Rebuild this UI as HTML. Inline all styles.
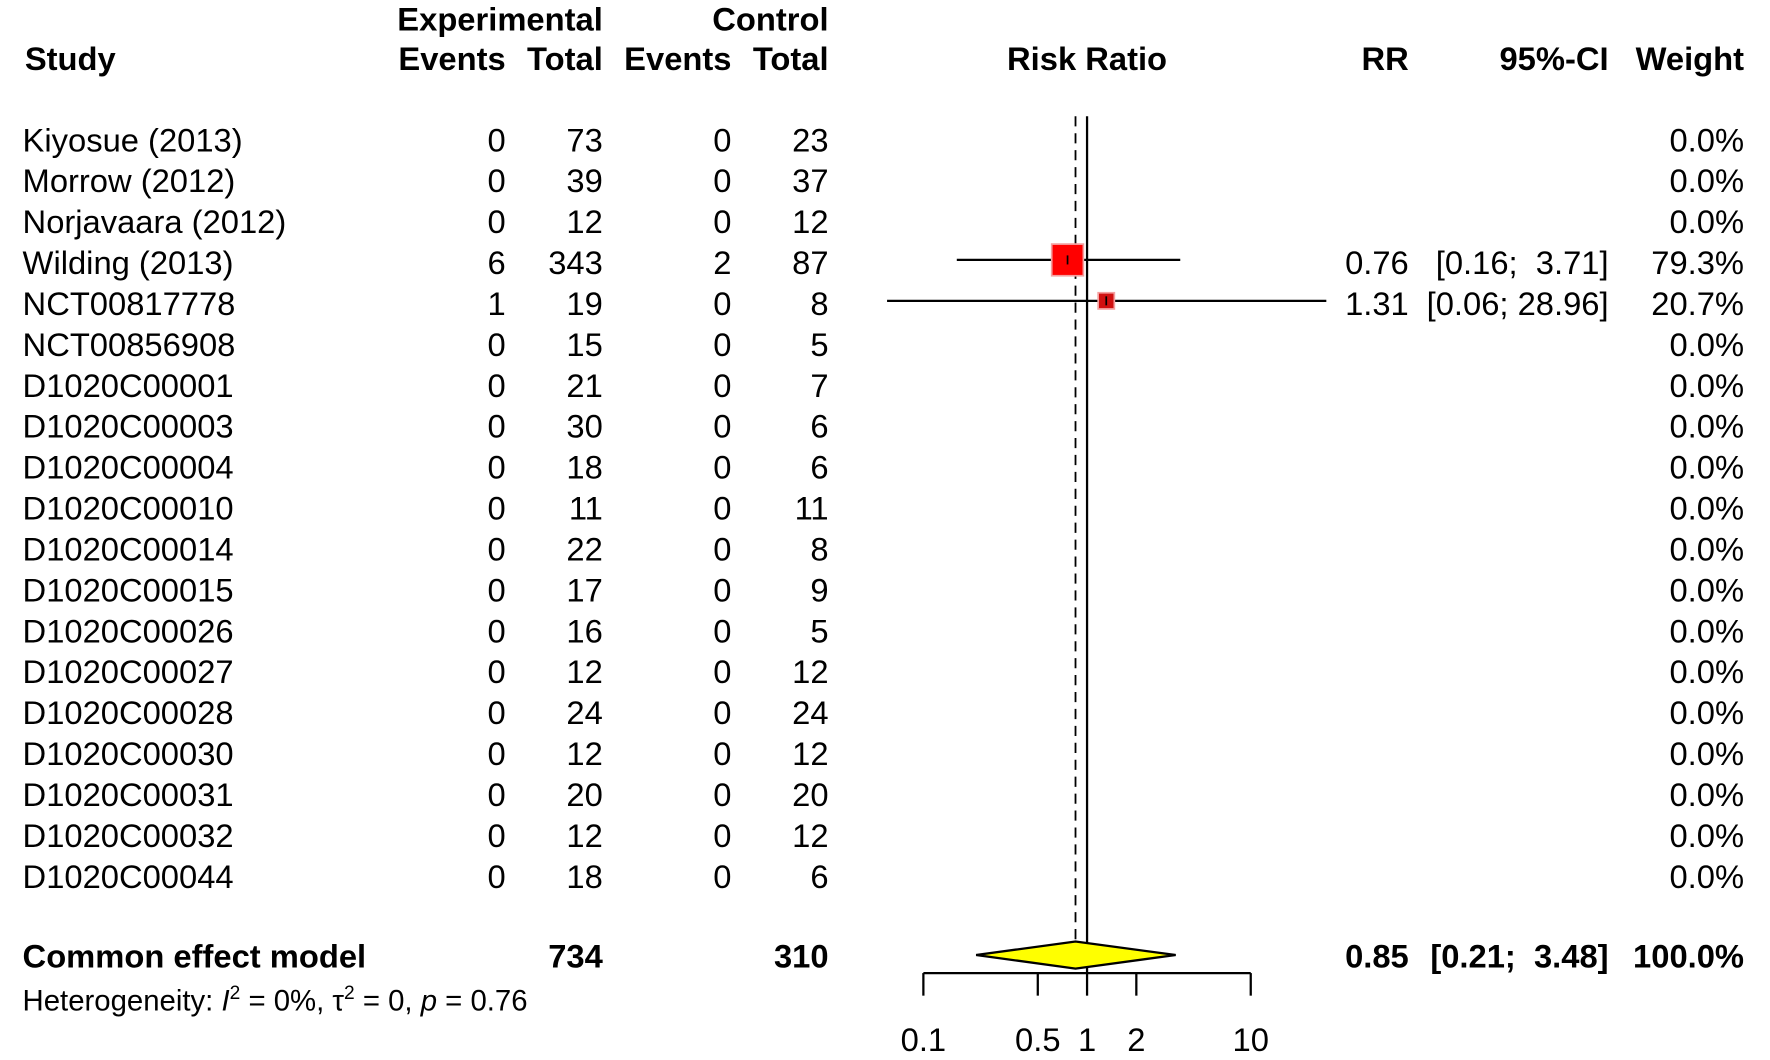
<!DOCTYPE html>
<html><head><meta charset="utf-8"><style>
html,body{margin:0;padding:0;background:#fff;}
svg{display:block;font-family:"Liberation Sans",Arial,sans-serif;}
</style></head><body>
<svg id="plot" width="1770" height="1060" viewBox="0 0 1568 939" preserveAspectRatio="none" xmlns="http://www.w3.org/2000/svg">
<g font-weight="bold" font-size="29">
<text x="534" y="27" text-anchor="end">Experimental</text>
<text x="734" y="27" text-anchor="end">Control</text>
<text x="22" y="62">Study</text>
<text x="448" y="62" text-anchor="end">Events</text>
<text x="534" y="62" text-anchor="end">Total</text>
<text x="648" y="62" text-anchor="end">Events</text>
<text x="734" y="62" text-anchor="end">Total</text>
<text x="963" y="62" text-anchor="middle">Risk Ratio</text>
<text x="1248" y="62" text-anchor="end">RR</text>
<text x="1425" y="62" text-anchor="end">95%-CI</text>
<text x="1545" y="62" text-anchor="end">Weight</text>
</g>
<g id="rows" font-size="29"></g>
<g id="marks"></g>
</svg>
<script>
const studies=["Kiyosue (2013)","Morrow (2012)","Norjavaara (2012)","Wilding (2013)","NCT00817778","NCT00856908","D1020C00001","D1020C00003","D1020C00004","D1020C00010","D1020C00014","D1020C00015","D1020C00026","D1020C00027","D1020C00028","D1020C00030","D1020C00031","D1020C00032","D1020C00044"];
const expEvents=[0,0,0,6,1,0,0,0,0,0,0,0,0,0,0,0,0,0,0];
const expTotal=[73,39,12,343,19,15,21,30,18,11,22,17,16,12,24,12,20,12,18];
const ctrlEvents=[0,0,0,2,0,0,0,0,0,0,0,0,0,0,0,0,0,0,0];
const ctrlTotal=[23,37,12,87,8,5,7,6,6,11,8,9,5,12,24,12,20,12,6];
const rr=[null,null,null,0.76,1.31,null,null,null,null,null,null,null,null,null,null,null,null,null,null];
const lower=[null,null,null,0.16,0.06,null,null,null,null,null,null,null,null,null,null,null,null,null,null];
const upper=[null,null,null,3.71,28.96,null,null,null,null,null,null,null,null,null,null,null,null,null,null];
const weight=[0,0,0,79.3,20.7,0,0,0,0,0,0,0,0,0,0,0,0,0,0];
const pooled=[0.85,0.21,3.48];
const pooledTotals=[734,310];
const ticks=[0.1,0.5,1,2,10];
const tickLabels=["0.1","0.5","1","2","10"];

const NS="http://www.w3.org/2000/svg";
const xs=v=>963+145*Math.log10(v);
const ys=i=>124+36.25*i;
const NB='\u00a0';
function mk(tag,attrs,parent,txt){const e=document.createElementNS(NS,tag);for(const k in attrs)e.setAttribute(k,attrs[k]);if(txt!==undefined)e.textContent=txt;parent.appendChild(e);return e;}
const rows=document.getElementById('rows'),marks=document.getElementById('marks');
const txt=(x,y,s,anchor,parent,name)=>{const t=mk('text',{x:x,y:y,'text-anchor':anchor},parent,s);


return t;};
let l=mk('line',{x1:963,x2:963,y1:103,y2:862,stroke:'#000','stroke-width':2},marks);


l=mk('line',{x1:xs(pooled[0]),x2:xs(pooled[0]),y1:103,y2:834,stroke:'#000','stroke-width':1.6,'stroke-dasharray':'9,6'},marks);


const fmtCI=(a,b)=>'['+a.toFixed(2)+';'+NB+(b<10?NB:'')+b.toFixed(2)+']';
studies.forEach((s,i)=>{
 const y=ys(i)+10;
 const g=mk('g',{},rows);
 
 
 txt(20,y,s,'start',g,'study-name');
 txt(448,y,expEvents[i],'end',g,'exp-events');
 txt(534,y,expTotal[i],'end',g,'exp-total');
 txt(648,y,ctrlEvents[i],'end',g,'ctrl-events');
 txt(734,y,ctrlTotal[i],'end',g,'ctrl-total');
 txt(1545,y,weight[i].toFixed(1)+'%','end',g,'weight');
 if(rr[i]!==null){
  txt(1248,y,rr[i].toFixed(2),'end',g,'rr-value');
  txt(1425,y,fmtCI(lower[i],upper[i]),'end',g,'ci-value');
  const yc=ys(i)-2.5;
  const ci=mk('line',{x1:xs(lower[i]),x2:xs(upper[i]),y1:yc,y2:yc,stroke:'#000','stroke-width':2},marks);
  
  
  const sz=Math.sqrt(weight[i])*3.15;
  const sq=mk('rect',{x:xs(rr[i])-sz/2,y:yc-sz/2,width:sz,height:sz,fill:i===3?'#f00':'#d01010',stroke:'#f4a0a0','stroke-width':1.5},marks);
  
  
  const tk=mk('line',{x1:xs(rr[i]),x2:xs(rr[i]),y1:yc-4,y2:yc+4,stroke:'#000','stroke-width':1.5},marks);
  
  
 }
});
const py=846;
const dia=mk('polygon',{points:`${xs(pooled[1])},${py} ${xs(pooled[0])},${py-12} ${xs(pooled[2])},${py} ${xs(pooled[0])},${py+12}`,fill:'#ff0',stroke:'#000','stroke-width':2},marks);


const pg=mk('g',{'font-weight':'bold','font-size':29},rows);


txt(20,857,'Common effect model','start',pg,'pooled-label');
txt(534,857,pooledTotals[0],'end',pg,'pooled-exp-total');
txt(734,857,pooledTotals[1],'end',pg,'pooled-ctrl-total');
txt(1248,857,pooled[0].toFixed(2),'end',pg,'pooled-rr');
txt(1425,857,fmtCI(pooled[1],pooled[2]),'end',pg,'pooled-ci');
txt(1545,857,'100.0%','end',pg,'pooled-weight');
const het=mk('text',{x:20,y:895,'font-size':26},rows);


het.innerHTML='Heterogeneity: <tspan font-style="italic">I</tspan><tspan dy="-10" font-size="17">2</tspan><tspan dy="10"> = 0%, τ</tspan><tspan dy="-10" font-size="17">2</tspan><tspan dy="10"> = 0, </tspan><tspan font-style="italic">p</tspan> = 0.76';
const ax=mk('g',{},marks);


mk('line',{x1:xs(ticks[0]),x2:xs(ticks[ticks.length-1]),y1:862,y2:862,stroke:'#000','stroke-width':2},ax);
ticks.forEach((t,i)=>{
 const tl=mk('line',{x1:xs(t),x2:xs(t),y1:862,y2:882,stroke:'#000','stroke-width':2},ax);
 
 
 const lb=mk('text',{x:xs(t),y:931,'text-anchor':'middle','font-size':29},ax,tickLabels[i]);
 
 
});
</script>
</body></html>
